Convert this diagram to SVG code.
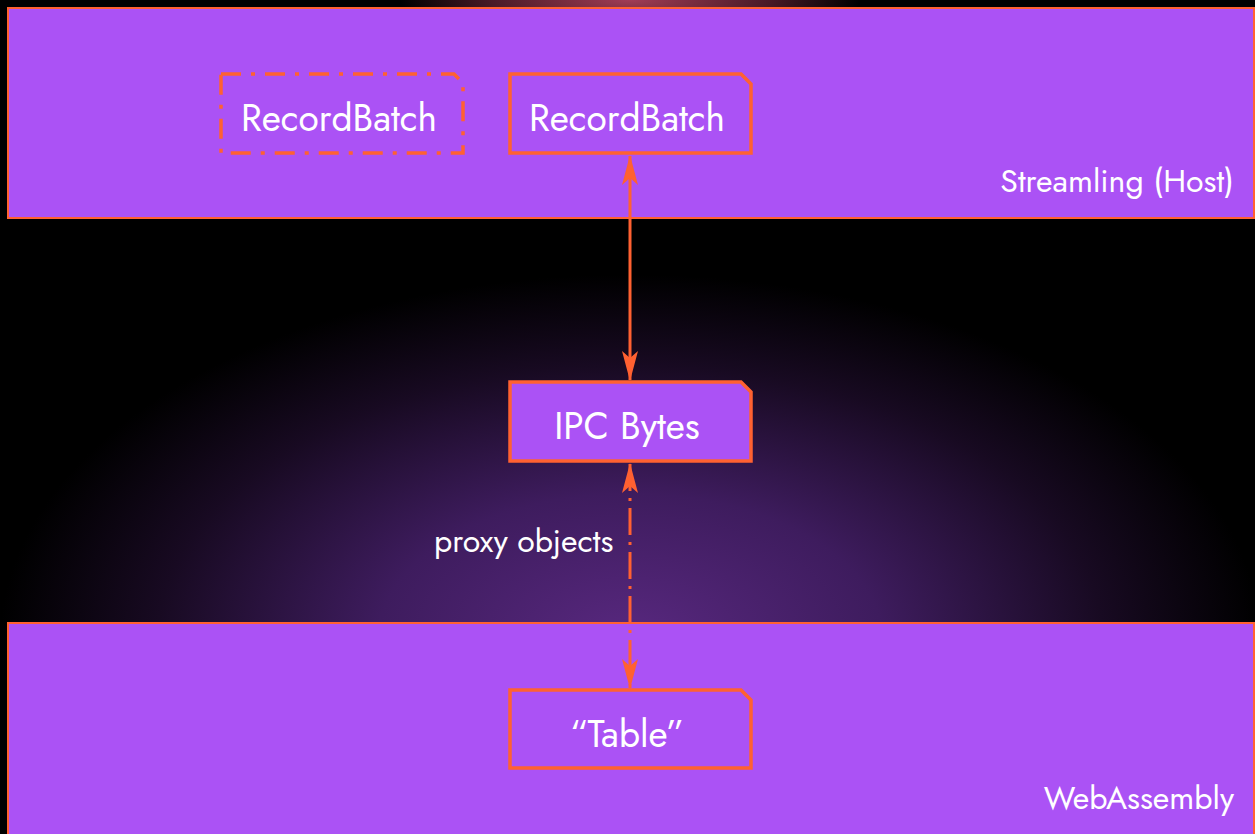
<svg xmlns="http://www.w3.org/2000/svg" width="1255" height="834" viewBox="0 0 1255 834">
  <defs>
    <radialGradient id="glow" cx="630" cy="640" r="630" gradientUnits="userSpaceOnUse" gradientTransform="translate(630 640) scale(1 0.58) translate(-630 -640)">
      <stop offset="0" stop-color="#58287f"/>
      <stop offset="0.4" stop-color="#3e1c5e"/>
      <stop offset="0.75" stop-color="#180a22"/>
      <stop offset="1" stop-color="#000000"/>
    </radialGradient>
    <radialGradient id="topglow" cx="630" cy="0" r="230" gradientUnits="userSpaceOnUse" gradientTransform="translate(630 0) scale(1 0.2) translate(-630 0)">
      <stop offset="0" stop-color="#a23d55"/>
      <stop offset="0.6" stop-color="#4a1a26"/>
      <stop offset="1" stop-color="#000000"/>
    </radialGradient>
    <marker id="arrow" viewBox="0 0 30 18" refX="29" refY="9" markerWidth="30" markerHeight="18" markerUnits="userSpaceOnUse" orient="auto-start-reverse">
      <path d="M0 1 L30 9 L0 17 L7 9 Z" fill="#ff6131"/>
    </marker>
    <style>
      .band { fill: #ab52f5; stroke: #ff6131; stroke-width: 2; }
      .box { fill: #ab52f5; stroke: #ff6131; stroke-width: 3.5; }
      .ghost { fill: none; stroke: #ff6131; stroke-width: 3.5; stroke-dasharray: 20 10 4 10; }
      .node-text { font-family: "Jost", "Lato", "Liberation Sans", sans-serif; font-size: 37px; fill: #ffffff; text-anchor: middle; }
      .label { font-family: "Jost", "Lato", "Liberation Sans", sans-serif; font-size: 32px; fill: #ffffff; }
      .edge { stroke: #ff6131; stroke-width: 3; fill: none; }
      .edge-dashdot { stroke-dasharray: 27 7 3 7; }
    </style>
  </defs>

  <!-- backdrop -->
  <rect x="0" y="0" width="1255" height="834" fill="#000000"/>
  <rect x="0" y="0" width="1255" height="834" fill="url(#glow)"/>
  <rect x="0" y="0" width="1255" height="40" fill="url(#topglow)"/>

  <!-- host band -->
  <g id="host">
    <rect class="band" x="8" y="8" width="1246" height="210"/>
    <text class="label" x="1234" y="192" text-anchor="end">Streamling (Host)</text>
  </g>

  <!-- wasm band -->
  <g id="wasm">
    <rect class="band" x="8" y="623" width="1246" height="215"/>
    <text class="label" x="1234" y="809" text-anchor="end">WebAssembly</text>
  </g>

  <g id="recordbatch-ghost">
    <path class="ghost" d="M221 74 H454 L463 83 V153 H221 Z"/>
    <text class="node-text" x="339" y="131">RecordBatch</text>
  </g>

  <g id="recordbatch">
    <path class="box" d="M510 74 H741 L751 84 V153 H510 Z"/>
    <text class="node-text" x="627" y="131">RecordBatch</text>
  </g>

  <g id="ipc-bytes">
    <path class="box" d="M510 382 H741 L751 392 V461 H510 Z"/>
    <text class="node-text" x="627" y="439">IPC Bytes</text>
  </g>

  <g id="table">
    <path class="box" d="M510 690 H741 L751 700 V768 H510 Z"/>
    <text class="node-text" x="627" y="747">“Table”</text>
  </g>

  <!-- connectors -->
  <g id="connectors">
    <line class="edge" x1="630" y1="156" x2="630" y2="380" marker-start="url(#arrow)" marker-end="url(#arrow)"/>
    <line class="edge edge-dashdot" x1="630" y1="464" x2="630" y2="688" marker-start="url(#arrow)" marker-end="url(#arrow)"/>
    <text class="label" x="434" y="552">proxy objects</text>
  </g>
</svg>
